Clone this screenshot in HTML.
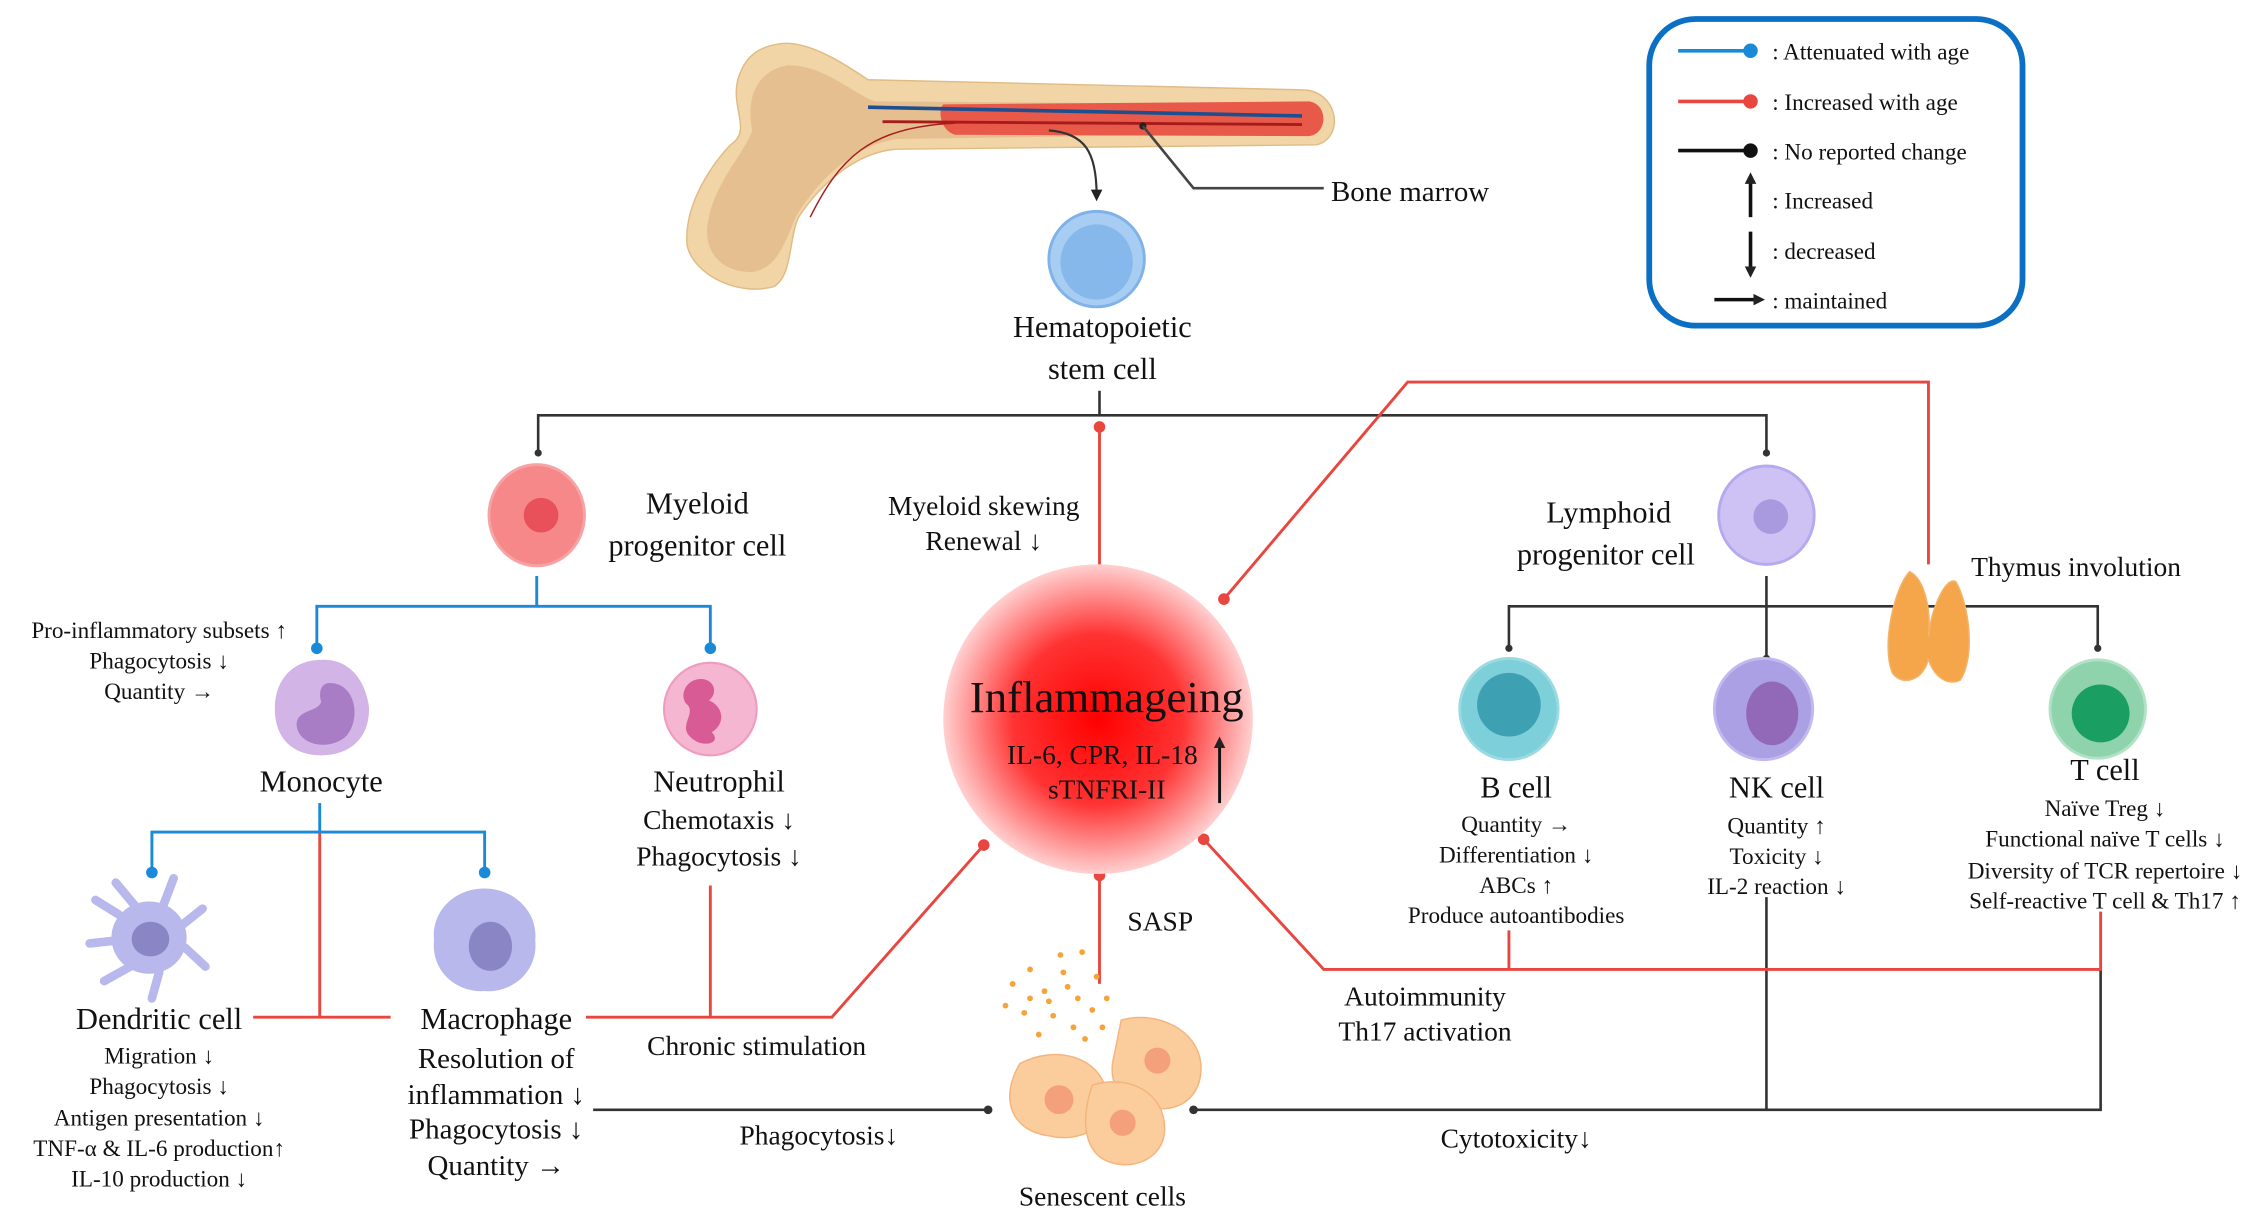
<!DOCTYPE html>
<html><head><meta charset="utf-8"><style>
html,body{margin:0;padding:0;background:#fff;}
svg{display:block;}
svg text{font-family:"Liberation Serif","Times New Roman","DejaVu Serif",serif !important;fill:#111;}
</style></head><body>
<svg width="2267" height="1217" viewBox="0 0 1567 841" xmlns="http://www.w3.org/2000/svg" font-family="Liberation Serif, serif">
<defs>
<radialGradient id="inf" cx="50%" cy="50%" r="50%">
<stop offset="0" stop-color="#ff0000"/><stop offset="0.55" stop-color="#ff3333"/><stop offset="1" stop-color="#ffd0d0"/>
</radialGradient>
<marker id="ah" markerWidth="8" markerHeight="8" refX="4" refY="4" orient="auto" markerUnits="userSpaceOnUse"><path d="M0,0 L8,4 L0,8 z" fill="#222"/></marker>
</defs>

<!-- bone -->
<path d="M540,30 C560,28 585,45 600,55 L900,62 C925,62 930,95 910,100 L620,103 C590,105 565,130 552,150 C545,165 548,190 535,198 C510,205 480,190 475,170 C472,140 495,110 505,100 C520,90 505,75 510,55 C515,38 525,32 540,30 z" fill="#f1d5a6" stroke="#e0bb85" stroke-width="1"/>
<path d="M545,45 C570,45 590,65 605,70 L890,72 L890,92 L620,96 C590,100 565,125 550,150 C540,175 535,185 520,188 C495,188 485,170 490,150 C495,125 515,105 520,90 C515,65 525,48 545,45 z" fill="#e2b98a" opacity="0.8"/>
<path d="M652,72 L905,70 C918,72 918,92 905,94 L660,93 C650,90 648,76 652,72 z" fill="#e8594a"/>
<path d="M600,74 L900,80" stroke="#1d4f8f" stroke-width="2.5" fill="none"/>
<path d="M610,84 L900,86" stroke="#a61c1c" stroke-width="2" fill="none"/>
<path d="M660,85 C600,88 580,110 560,150" stroke="#a61c1c" stroke-width="1" fill="none"/>

<path d="M725,90 C750,92 758,105 758,135" stroke="#333" stroke-width="1.5" fill="none" marker-end="url(#ah)"/>
<circle cx="790" cy="87" r="2.5" fill="#222"/>
<polyline points="790,87 825,130 915,130" stroke="#444" stroke-width="1.8" fill="none"/>
<text x="920" y="139" font-size="20">Bone marrow</text>

<!-- HSC -->
<ellipse cx="758" cy="179" rx="33" ry="33" fill="#a8cdf3" stroke="#7fb2e8" stroke-width="2"/>
<ellipse cx="758" cy="181" rx="25" ry="26" fill="#86b8ec"/>
<text x="762" y="233" font-size="21" text-anchor="middle">Hematopoietic</text>
<text x="762" y="262" font-size="21" text-anchor="middle">stem cell</text>

<!-- legend -->
<rect x="1140" y="13" width="258" height="212" rx="32" fill="#fff" stroke="#0b6fc4" stroke-width="4"/>
<line x1="1160" y1="35" x2="1210" y2="35" stroke="#1a8ad8" stroke-width="2.5"/><circle cx="1210" cy="35" r="5" fill="#1a8ad8"/>
<text x="1225" y="41" font-size="16">: Attenuated with age</text>
<line x1="1160" y1="70" x2="1210" y2="70" stroke="#e8463f" stroke-width="2.5"/><circle cx="1210" cy="70" r="5" fill="#e8463f"/>
<text x="1225" y="76" font-size="16">: Increased with age</text>
<line x1="1160" y1="104" x2="1210" y2="104" stroke="#111" stroke-width="2.5"/><circle cx="1210" cy="104" r="5" fill="#111"/>
<text x="1225" y="110" font-size="16">: No reported change</text>
<line x1="1210" y1="150" x2="1210" y2="123" stroke="#111" stroke-width="2.5" marker-end="url(#ah)"/>
<text x="1225" y="144" font-size="16">: Increased</text>
<line x1="1210" y1="160" x2="1210" y2="188" stroke="#111" stroke-width="2.5" marker-end="url(#ah)"/>
<text x="1225" y="179" font-size="16">: decreased</text>
<line x1="1185" y1="207" x2="1216" y2="207" stroke="#111" stroke-width="2.5" marker-end="url(#ah)"/>
<text x="1225" y="213" font-size="16">: maintained</text>

<!-- black tree top -->
<g stroke="#333" stroke-width="1.8" fill="none">
<polyline points="760,270 760,287"/>
<polyline points="372,313 372,287 1221,287 1221,313"/>
<polyline points="1221,398 1221,455"/>
<polyline points="1043,448 1043,419 1450,419 1450,448"/>
<polyline points="410,767 683,767"/>
<polyline points="825,767 1452,767 1452,670"/>
<polyline points="1221,620 1221,767"/>
</g>
<g fill="#333"><circle cx="372" cy="313" r="2.5"/><circle cx="1221" cy="313" r="2.5"/><circle cx="1221" cy="455" r="2.5"/><circle cx="1043" cy="448" r="2.5"/><circle cx="1450" cy="448" r="2.5"/><circle cx="683" cy="767" r="3"/><circle cx="825" cy="767" r="3"/></g>

<!-- red lines -->
<g stroke="#e8463f" stroke-width="2" fill="none">
<polyline points="760,295 760,390"/>
<polyline points="846,414 973,264 1333,264 1333,390"/>
<polyline points="221,575 221,703"/>
<polyline points="175,703 270,703"/>
<polyline points="405,703 575,703 680,584"/>
<polyline points="491,612 491,703"/>
<polyline points="760,605 760,680"/>
<polyline points="832,580 915,670 1452,670 1452,630"/>
<polyline points="1043,670 1043,643"/>
</g>
<g fill="#e8463f"><circle cx="760" cy="295" r="4"/><circle cx="846" cy="414" r="4"/><circle cx="680" cy="584" r="4"/><circle cx="760" cy="605" r="4"/><circle cx="832" cy="580" r="4"/></g>

<!-- blue lines -->
<g stroke="#1a8ad8" stroke-width="2" fill="none">
<polyline points="371,398 371,419"/>
<polyline points="219,448 219,419 491,419 491,448"/>
<polyline points="221,555 221,575"/>
<polyline points="105,603 105,575 335,575 335,603"/>
</g>
<g fill="#1a8ad8"><circle cx="219" cy="448" r="4"/><circle cx="491" cy="448" r="4"/><circle cx="105" cy="603" r="4"/><circle cx="335" cy="603" r="4"/></g>

<!-- myeloid -->
<ellipse cx="371" cy="356" rx="33" ry="35" fill="#f7888a" stroke="#f5a3a4" stroke-width="2"/>
<circle cx="374" cy="356" r="12" fill="#e8505a"/>
<text x="482" y="355" font-size="21" text-anchor="middle">Myeloid</text>
<text x="482" y="384" font-size="21" text-anchor="middle">progenitor cell</text>
<text x="680" y="356" font-size="19" text-anchor="middle">Myeloid skewing</text>
<text x="680" y="380" font-size="19" text-anchor="middle">Renewal ↓</text>

<text x="110" y="441" font-size="16" text-anchor="middle">Pro-inflammatory subsets ↑</text>
<text x="110" y="462" font-size="16" text-anchor="middle">Phagocytosis ↓</text>
<text x="110" y="483" font-size="16" text-anchor="middle">Quantity →</text>

<!-- monocyte -->
<path d="M222,456 C240,455 252,468 255,488 C256,510 242,522 222,522 C202,522 190,510 190,490 C190,468 204,456 222,456 z" fill="#d2b4e6"/>
<path d="M228,472 C245,472 250,495 240,508 C228,520 205,515 205,500 C206,490 220,492 222,485 C220,478 222,472 228,472 z" fill="#a97cc6"/>
<text x="222" y="547" font-size="21" text-anchor="middle">Monocyte</text>

<!-- neutrophil -->
<circle cx="491" cy="490" r="32" fill="#f5b6d2" stroke="#f09cc1" stroke-width="1.5"/>
<path d="M480,470 C492,466 498,478 490,484 C500,488 502,500 492,506 C500,514 484,518 476,508 C470,500 482,492 474,486 C470,480 474,472 480,470 z" fill="#d95b95"/>
<text x="497" y="547" font-size="21" text-anchor="middle">Neutrophil</text>
<text x="497" y="573" font-size="19" text-anchor="middle">Chemotaxis ↓</text>
<text x="497" y="598" font-size="19" text-anchor="middle">Phagocytosis ↓</text>

<!-- dendritic -->
<g fill="#b8b8ec">
<ellipse cx="103" cy="648" rx="26" ry="25"/>
<path d="M95,628 L80,610 M112,628 L120,607 M125,640 L140,628 M128,655 L142,668 M110,672 L105,690 M90,668 L72,678 M80,650 L62,652 M82,632 L66,622" stroke="#b8b8ec" stroke-width="6" stroke-linecap="round"/>
</g>
<ellipse cx="104" cy="649" rx="13" ry="12" fill="#8a86c6"/>
<text x="110" y="711" font-size="21" text-anchor="middle">Dendritic cell</text>
<text x="110" y="735" font-size="16" text-anchor="middle">Migration ↓</text>
<text x="110" y="756" font-size="16" text-anchor="middle">Phagocytosis ↓</text>
<text x="110" y="778" font-size="16" text-anchor="middle">Antigen presentation ↓</text>
<text x="110" y="799" font-size="16" text-anchor="middle">TNF-α &amp; IL-6 production↑</text>
<text x="110" y="820" font-size="16" text-anchor="middle">IL-10 production ↓</text>

<!-- macrophage -->
<path d="M335,614 C355,614 372,630 370,650 C372,670 356,686 335,685 C314,686 298,670 300,650 C298,630 314,614 335,614 z" fill="#b8b8ec"/>
<ellipse cx="339" cy="654" rx="15" ry="17" fill="#8a86c6"/>
<text x="343" y="711" font-size="21" text-anchor="middle">Macrophage</text>
<text x="343" y="738" font-size="20" text-anchor="middle">Resolution of</text>
<text x="343" y="763" font-size="20" text-anchor="middle">inflammation ↓</text>
<text x="343" y="787" font-size="20" text-anchor="middle">Phagocytosis ↓</text>
<text x="343" y="812" font-size="20" text-anchor="middle">Quantity →</text>

<text x="523" y="729" font-size="19" text-anchor="middle">Chronic stimulation</text>
<text x="566" y="791" font-size="19" text-anchor="middle">Phagocytosis↓</text>

<!-- inflammageing -->
<circle cx="759" cy="497" r="107" fill="url(#inf)"/>
<text x="765" y="492" font-size="31" text-anchor="middle">Inflammageing</text>
<text x="762" y="528" font-size="19" text-anchor="middle">IL-6, CPR, IL-18</text>
<text x="765" y="552" font-size="19" text-anchor="middle">sTNFRI-II</text>
<line x1="843" y1="555" x2="843" y2="513" stroke="#111" stroke-width="2" marker-end="url(#ah)"/>
<text x="802" y="643" font-size="19" text-anchor="middle">SASP</text>

<!-- senescent -->
<g fill="#f5a33a">
<circle cx="700" cy="680" r="2"/><circle cx="712" cy="670" r="2"/><circle cx="722" cy="685" r="2"/><circle cx="735" cy="672" r="2"/><circle cx="745" cy="690" r="2"/><circle cx="758" cy="675" r="2"/><circle cx="708" cy="700" r="2"/><circle cx="728" cy="702" r="2"/><circle cx="742" cy="710" r="2"/><circle cx="755" cy="698" r="2"/><circle cx="718" cy="715" r="2"/><circle cx="733" cy="660" r="2"/><circle cx="748" cy="658" r="2"/><circle cx="765" cy="690" r="2"/><circle cx="695" cy="695" r="2"/><circle cx="725" cy="692" r="2"/><circle cx="738" cy="682" r="2"/><circle cx="712" cy="690" r="2"/><circle cx="750" cy="718" r="2"/><circle cx="762" cy="710" r="2"/>
</g>
<path d="M775,705 C800,698 828,712 830,735 C832,760 812,770 795,765 C775,765 765,748 770,730 z" fill="#fbcc9c" stroke="#f5b47c"/>
<path d="M705,735 C730,722 760,730 765,755 C770,780 745,790 725,785 C700,782 690,760 705,735 z" fill="#fbcc9c" stroke="#f5b47c"/>
<path d="M755,750 C780,742 805,755 805,780 C805,800 785,808 770,804 C752,800 745,780 755,750 z" fill="#fbcc9c" stroke="#f5b47c"/>
<circle cx="800" cy="733" r="9" fill="#f4a07a"/><circle cx="732" cy="760" r="10" fill="#f4a07a"/><circle cx="776" cy="776" r="9" fill="#f4a07a"/>
<text x="762" y="833" font-size="19" text-anchor="middle">Senescent cells</text>

<text x="985" y="695" font-size="19" text-anchor="middle">Autoimmunity</text>
<text x="985" y="719" font-size="19" text-anchor="middle">Th17 activation</text>
<text x="1048" y="793" font-size="19" text-anchor="middle">Cytotoxicity↓</text>

<!-- lymphoid -->
<ellipse cx="1221" cy="356" rx="33" ry="34" fill="#cdc2f3" stroke="#b6a9ee" stroke-width="2"/>
<circle cx="1224" cy="357" r="12" fill="#a99ae0"/>
<text x="1112" y="361" font-size="21" text-anchor="middle">Lymphoid</text>
<text x="1110" y="390" font-size="21" text-anchor="middle">progenitor cell</text>

<!-- thymus -->
<path d="M1320,395 C1330,400 1335,420 1333,440 C1335,420 1345,398 1352,402 C1362,420 1365,455 1355,470 C1345,475 1335,465 1333,455 C1330,470 1315,475 1308,465 C1300,445 1310,405 1320,395 z" fill="#f6a64a" stroke="#f3b369"/>
<text x="1435" y="398" font-size="19" text-anchor="middle">Thymus involution</text>

<!-- B cell -->
<ellipse cx="1043" cy="490" rx="34" ry="35" fill="#7dcfd9" stroke="#9cdae2" stroke-width="2"/>
<ellipse cx="1043" cy="487" rx="22" ry="22" fill="#3ea0b3"/>
<text x="1048" y="551" font-size="21" text-anchor="middle">B cell</text>
<text x="1048" y="575" font-size="16" text-anchor="middle">Quantity →</text>
<text x="1048" y="596" font-size="16" text-anchor="middle">Differentiation ↓</text>
<text x="1048" y="617" font-size="16" text-anchor="middle">ABCs ↑</text>
<text x="1048" y="638" font-size="16" text-anchor="middle">Produce autoantibodies</text>

<!-- NK -->
<ellipse cx="1219" cy="490" rx="34" ry="35" fill="#aaa0e3" stroke="#c2baef" stroke-width="2"/>
<ellipse cx="1225" cy="493" rx="18" ry="22" fill="#9268b8"/>
<text x="1228" y="551" font-size="21" text-anchor="middle">NK cell</text>
<text x="1228" y="576" font-size="16" text-anchor="middle">Quantity ↑</text>
<text x="1228" y="597" font-size="16" text-anchor="middle">Toxicity ↓</text>
<text x="1228" y="618" font-size="16" text-anchor="middle">IL-2 reaction ↓</text>

<!-- T cell -->
<ellipse cx="1450" cy="490" rx="33" ry="34" fill="#8fd3ac" stroke="#b1e2c5" stroke-width="2"/>
<ellipse cx="1452" cy="493" rx="20" ry="20" fill="#1a9e62"/>
<text x="1455" y="539" font-size="21" text-anchor="middle">T cell</text>
<text x="1455" y="564" font-size="16" text-anchor="middle">Naïve Treg ↓</text>
<text x="1455" y="585" font-size="16" text-anchor="middle">Functional naïve T cells ↓</text>
<text x="1455" y="607" font-size="16" text-anchor="middle">Diversity of TCR repertoire ↓</text>
<text x="1455" y="628" font-size="16" text-anchor="middle">Self-reactive T cell &amp; Th17 ↑</text>
</svg>
</body></html>
